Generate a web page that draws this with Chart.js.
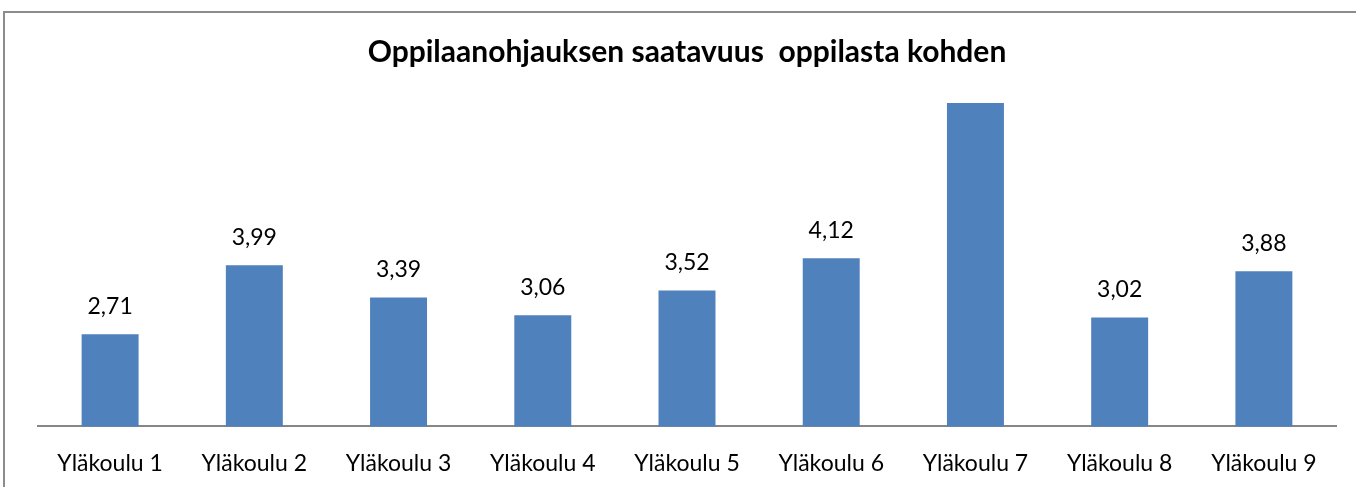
<!DOCTYPE html>
<html>
<head>
    <script src="https://cdn.jsdelivr.net/npm/chart.js@4.4.0/dist/chart.umd.min.js"></script>
    <style>
        body { margin: 0; background: #fff; overflow: hidden; }
        canvas { display: block; }
    </style>
</head>
<body>
    <canvas id="myChart" width="1356" height="487"></canvas>

    <script>
        // data (Yläkoulu 7 runs off the top, its label is not shown)
        var kategoriat = ["Yläkoulu 1", "Yläkoulu 2", "Yläkoulu 3", "Yläkoulu 4", "Yläkoulu 5",
            "Yläkoulu 6", "Yläkoulu 7", "Yläkoulu 8", "Yläkoulu 9"];
        var arvot = [2.71, 3.99, 3.39, 3.06, 3.52, 4.12, 7.6, 3.02, 3.88];
        var yMin = 1;
        var yMax = 7;
        var otsikko = "Oppilaanohjauksen saatavuus  oppilasta kohden";

        // frame round the chart
        var kehys = {
            id: "kehys",
            beforeDraw: function (chart) {
                var ctx = chart.ctx;
                ctx.save();
                ctx.fillStyle = "#fff";
                ctx.fillRect(0, 0, chart.width, chart.height);
                ctx.strokeStyle = "#8c8c8c";
                ctx.lineWidth = 2;
                ctx.strokeRect(4, 12, chart.width + 20, chart.height + 20);
                ctx.restore();
            }
        };

        // value labels above bars, comma as decimal mark
        var arvoLabels = {
            id: "arvoLabels",
            afterDatasetsDraw: function (chart) {
                var ctx = chart.ctx;
                var meta = chart.getDatasetMeta(0);
                ctx.save();
                ctx.font = "23px Lato";
                ctx.fillStyle = "#000";
                ctx.textAlign = "center";
                ctx.textBaseline = "middle";
                meta.data.forEach(function (bar, i) {
                    if (arvot[i] > yMax) return;
                    ctx.fillText(arvot[i].toFixed(2).replace(".", ","), bar.x, bar.y - 28);
                });
                ctx.restore();
            }
        };

        new Chart("myChart", {
            type: "bar",
            data: {
                labels: kategoriat,
                datasets: [{
                    data: arvot,
                    backgroundColor: "#4f81bd",
                    categoryPercentage: 1,
                    barPercentage: 0.395
                }]
            },
            options: {
                responsive: false,
                animation: false,
                layout: { padding: { left: 38, right: 20, top: 0, bottom: -13 } },
                plugins: {
                    legend: { display: false },
                    tooltip: { enabled: false },
                    title: {
                        display: true,
                        text: otsikko,
                        color: "#000",
                        font: { family: "Lato", size: 30, weight: "bold", lineHeight: 1.2 },
                        padding: { top: 34, bottom: 33 }
                    }
                },
                scales: {
                    x: {
                        grid: { display: false, drawTicks: false },
                        border: { display: true, color: "#868686", width: 2 },
                        ticks: { color: "#000", padding: 23, font: { family: "Lato", size: 23 } }
                    },
                    y: {
                        display: false,
                        min: yMin,
                        max: yMax
                    }
                }
            },
            plugins: [kehys, arvoLabels]
        });
    </script>
</body>
</html>
